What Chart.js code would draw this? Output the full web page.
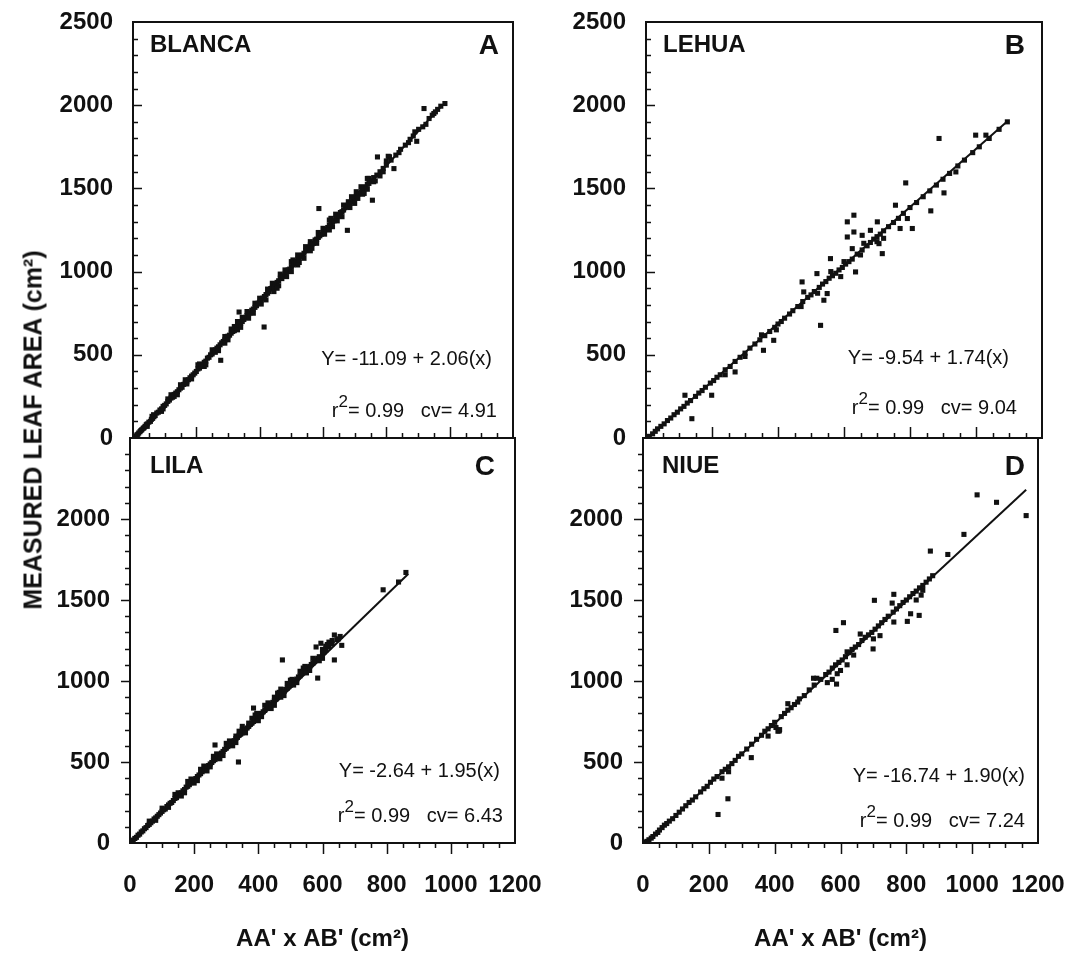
<!DOCTYPE html>
<html>
<head>
<meta charset="utf-8">
<script src="https://cdn.jsdelivr.net/npm/chart.js@4.4.1/dist/chart.umd.min.js"></script>
<style>
html,body{margin:0;padding:0;background:#fff;}
#wrap{position:relative;width:1087px;height:962px;overflow:hidden;font-family:'Liberation Sans',Arial,Helvetica,sans-serif;color:#111;}
canvas{position:absolute;left:0;top:0;}
.t{position:absolute;white-space:nowrap;line-height:1;}
.name{font-weight:bold;font-size:24px;}
.letter{font-weight:bold;font-size:28px;}
.eq{font-size:20px;}
.eq sup{font-size:17px;line-height:0;position:relative;top:-2px;}
#ytitle{position:absolute;left:33px;top:430px;transform:translate(-50%,-50%) rotate(-90deg);font-weight:bold;font-size:25px;white-space:nowrap;line-height:1;}
</style>
</head>
<body>
<div id="wrap">
<canvas id="cA" width="1087" height="962"></canvas>
<canvas id="cB" width="1087" height="962"></canvas>
<canvas id="cC" width="1087" height="962"></canvas>
<canvas id="cD" width="1087" height="962"></canvas>

<div id="ytitle">MEASURED LEAF AREA (cm²)</div>

<div class="t name" style="left:150px;top:32px;">BLANCA</div>
<div class="t letter" style="right:588px;top:31px;">A</div>
<div class="t eq" style="right:595px;top:348px;">Y= -11.09 + 2.06(x)</div>
<div class="t eq" style="right:590px;top:400px;">r<sup>2</sup>= 0.99 &nbsp; cv= 4.91</div>

<div class="t name" style="left:663px;top:32px;">LEHUA</div>
<div class="t letter" style="right:62px;top:31px;">B</div>
<div class="t eq" style="right:78px;top:347px;">Y= -9.54 + 1.74(x)</div>
<div class="t eq" style="right:70px;top:397px;">r<sup>2</sup>= 0.99 &nbsp; cv= 9.04</div>

<div class="t name" style="left:150px;top:453px;">LILA</div>
<div class="t letter" style="right:592px;top:452px;">C</div>
<div class="t eq" style="right:587px;top:760px;">Y= -2.64 + 1.95(x)</div>
<div class="t eq" style="right:584px;top:805px;">r<sup>2</sup>= 0.99 &nbsp; cv= 6.43</div>

<div class="t name" style="left:662px;top:453px;">NIUE</div>
<div class="t letter" style="right:62px;top:452px;">D</div>
<div class="t eq" style="right:62px;top:765px;">Y= -16.74 + 1.90(x)</div>
<div class="t eq" style="right:62px;top:810px;">r<sup>2</sup>= 0.99 &nbsp; cv= 7.24</div>
</div>

<script>
// ---------- tick values ----------
const xTicks = [0, 200, 400, 600, 800, 1000, 1200];
const yTicks = [0, 500, 1000, 1500, 2000, 2500];
const xMinorStep = 50;
const yMinorStep = 100;
const xTitle = "AA' x AB' (cm²)";

// ---------- BLANCA (A) ----------
const blanca = [
[8,10],[12,18],[15,22],[18,30],[22,38],[25,45],[28,50],[32,58],[35,62],[38,70],[42,80],[45,85],[45,70],[50,95],[55,100],[58,112],[60,130],[62,118],[65,140],[66,128],[70,135],[75,150],[80,155],[85,168],[90,160],[90,175],[95,190],[95,175],[100,196],[105,205],[110,220],[110,235],[115,228],[120,240],[120,260],[125,245],[130,262],[130,250],[135,270],[140,278],[140,260],[145,290],[150,300],[150,320],[155,305],[160,322],[165,330],[165,350],[170,338],[170,325],[175,350],[180,362],[185,372],[185,355],[190,380],[195,390],[200,400],[205,415],[205,440],[210,420],[210,445],[215,435],[220,442],[225,455],[225,430],[230,462],[230,440],[235,480],[240,485],[245,500],[250,505],[250,530],[255,520],[260,530],[260,515],[265,540],[270,548],[270,525],[275,560],[277,467],[280,572],[285,580],[290,590],[290,610],[290,570],[295,600],[300,612],[300,590],[305,618],[310,630],[310,655],[315,640],[320,645],[320,670],[325,660],[330,672],[330,650],[335,757],[335,680],[340,690],[340,665],[345,700],[345,725],[350,712],[355,725],[360,735],[360,760],[365,745],[365,720],[370,752],[375,768],[380,775],[380,750],[385,785],[385,810],[390,795],[395,810],[400,815],[400,840],[405,830],[405,805],[410,840],[414,667],[415,850],[420,862],[420,830],[425,870],[425,895],[430,880],[435,898],[440,905],[440,930],[445,910],[445,880],[450,925],[455,935],[460,945],[460,915],[465,960],[465,985],[470,958],[475,975],[480,985],[480,1010],[485,1000],[485,970],[490,1010],[495,1015],[500,1030],[500,1000],[500,1060],[505,1040],[505,1070],[510,1050],[515,1060],[520,1075],[520,1100],[525,1080],[525,1055],[530,1095],[535,1100],[540,1110],[540,1080],[545,1125],[545,1150],[550,1130],[555,1140],[560,1160],[560,1180],[565,1165],[565,1140],[570,1170],[575,1190],[580,1195],[580,1170],[585,1205],[585,1235],[587,1379],[590,1215],[595,1225],[600,1235],[600,1260],[605,1250],[605,1225],[610,1255],[615,1265],[620,1280],[620,1250],[620,1310],[625,1290],[625,1320],[630,1300],[635,1305],[640,1320],[640,1345],[645,1330],[645,1305],[650,1335],[655,1355],[660,1360],[660,1330],[665,1370],[665,1400],[670,1385],[675,1390],[677,1248],[680,1400],[680,1420],[685,1410],[685,1385],[690,1420],[695,1435],[700,1440],[700,1410],[705,1452],[705,1480],[710,1465],[710,1440],[715,1470],[720,1480],[720,1510],[725,1495],[725,1465],[730,1505],[730,1470],[735,1510],[740,1525],[740,1495],[745,1530],[745,1560],[750,1545],[756,1429],[760,1565],[760,1540],[765,1545],[770,1580],[772,1689],[780,1600],[780,1575],[790,1620],[790,1600],[800,1640],[800,1665],[806,1693],[810,1690],[815,1670],[824,1619],[830,1700],[840,1715],[845,1735],[860,1760],[870,1775],[875,1795],[885,1815],[890,1840],[896,1783],[902,1855],[915,1870],[919,1980],[925,1885],[935,1920],[945,1940],[950,1950],[955,1960],[962,1975],[972,1994],[985,2010],
[330,700],[455,900],[520,1040],[560,1125],[630,1270],[690,1450],[740,1560]
];
const blancaFit = [[5,0],[975,1997]];

// ---------- LEHUA (B) ----------
const lehua = [
[10,10],[20,25],[28,40],[35,55],[45,70],[55,85],[65,105],[75,120],[85,140],[95,155],[105,175],[115,190],[118,257],[125,210],[135,225],[139,116],[150,250],[160,270],[170,285],[180,305],[195,330],[199,257],[205,345],[215,365],[225,380],[240,410],[240,380],[255,430],[270,460],[270,397],[285,485],[300,510],[300,490],[315,540],[330,565],[345,590],[350,620],[356,527],[360,615],[375,640],[387,587],[390,665],[395,650],[400,685],[410,700],[420,720],[435,745],[445,765],[460,790],[470,790],[473,938],[475,820],[478,878],[490,845],[500,860],[510,880],[518,988],[520,870],[525,905],[529,677],[535,925],[539,828],[545,940],[549,868],[555,960],[559,1078],[560,1000],[565,975],[575,990],[585,1010],[590,970],[595,1025],[600,1060],[605,1045],[610,1299],[610,1208],[615,1060],[625,1075],[625,1138],[630,1339],[630,1238],[635,998],[640,1105],[650,1100],[655,1130],[655,1218],[660,1170],[670,1155],[680,1175],[680,1248],[690,1195],[700,1210],[700,1180],[701,1299],[706,1168],[710,1225],[716,1108],[720,1245],[720,1200],[735,1270],[750,1295],[756,1399],[765,1320],[770,1259],[780,1350],[787,1533],[792,1319],[800,1385],[807,1259],[820,1415],[840,1450],[860,1485],[863,1365],[880,1520],[888,1800],[900,1555],[903,1473],[920,1590],[939,1599],[945,1635],[965,1670],[990,1715],[999,1820],[1010,1750],[1030,1820],[1040,1800],[1070,1855],[1095,1900]
];
const lehuaFit = [[6,0],[1096,1905]];

// ---------- LILA (C) ----------
const lila = [
[5,8],[10,18],[15,28],[20,35],[25,48],[30,55],[35,68],[40,75],[45,88],[50,95],[55,108],[60,115],[60,135],[65,125],[70,135],[75,148],[80,155],[80,140],[85,165],[90,175],[95,185],[100,195],[100,215],[105,205],[110,210],[115,225],[120,235],[120,220],[125,245],[130,250],[135,262],[140,275],[140,300],[145,280],[150,295],[150,310],[155,300],[160,310],[160,290],[165,322],[170,330],[170,310],[175,345],[180,350],[180,380],[185,360],[190,372],[190,395],[195,380],[200,390],[200,370],[205,398],[210,410],[210,385],[215,420],[220,428],[220,455],[225,440],[230,450],[230,475],[235,458],[240,470],[240,445],[245,478],[250,488],[250,470],[255,497],[260,508],[260,535],[265,605],[265,515],[270,525],[270,550],[275,538],[280,545],[280,520],[285,555],[290,565],[290,540],[295,578],[300,585],[300,615],[305,595],[310,605],[310,630],[315,612],[320,625],[320,600],[325,632],[330,645],[330,620],[330,660],[335,652],[338,500],[340,665],[340,690],[345,672],[350,680],[350,720],[350,700],[355,692],[360,702],[360,680],[365,710],[370,720],[370,740],[375,732],[380,740],[380,770],[385,833],[385,750],[390,760],[390,790],[395,770],[400,780],[400,755],[405,790],[410,800],[410,780],[415,810],[420,818],[420,850],[425,830],[430,838],[430,865],[435,850],[440,858],[440,830],[445,868],[450,878],[450,850],[450,900],[455,888],[460,897],[460,925],[465,905],[470,918],[470,950],[470,900],[475,1130],[475,925],[480,935],[480,910],[485,948],[490,955],[490,985],[495,965],[500,975],[500,1005],[505,985],[510,995],[510,975],[515,1005],[520,1012],[520,990],[525,1025],[530,1032],[530,1060],[535,1045],[540,1052],[540,1080],[545,1062],[550,1072],[550,1050],[555,1082],[560,1090],[560,1065],[565,1102],[570,1110],[570,1140],[575,1120],[580,1210],[580,1130],[585,1018],[585,1140],[590,1150],[590,1125],[595,1233],[600,1170],[600,1140],[600,1195],[605,1180],[610,1190],[610,1215],[620,1210],[620,1240],[630,1230],[630,1250],[637,1130],[637,1284],[645,1255],[650,1260],[655,1275],[660,1220],[789,1563],[837,1611],[860,1670],
[395,800],[465,930],[505,1010],[545,1090],[615,1225]
];
const lilaFit = [[2,0],[867,1660]];

// ---------- NIUE (D) ----------
const niue = [
[5,5],[12,10],[18,20],[25,30],[30,40],[38,55],[45,65],[50,80],[58,95],[65,110],[72,120],[80,135],[90,150],[100,170],[110,190],[120,210],[130,230],[140,250],[150,265],[160,285],[175,315],[185,335],[195,350],[205,375],[215,395],[225,410],[228,176],[240,440],[240,400],[250,455],[258,273],[260,470],[260,440],[270,490],[280,510],[290,535],[300,550],[315,580],[329,527],[330,610],[345,640],[360,665],[370,690],[380,705],[380,660],[390,725],[400,745],[404,713],[410,690],[414,692],[415,700],[420,780],[430,800],[440,820],[440,860],[450,835],[460,855],[470,870],[475,890],[490,910],[505,945],[518,1017],[520,975],[528,1017],[540,1010],[555,1040],[560,990],[565,1055],[575,1080],[575,1010],[585,1100],[586,1312],[588,981],[590,1045],[595,1115],[600,1065],[605,1130],[609,1360],[615,1150],[620,1180],[620,1100],[625,1175],[635,1195],[640,1160],[645,1210],[655,1225],[660,1290],[665,1250],[675,1270],[685,1285],[695,1300],[699,1198],[700,1260],[703,1498],[705,1320],[715,1340],[720,1280],[725,1360],[735,1380],[745,1400],[757,1481],[760,1425],[762,1535],[762,1364],[770,1445],[780,1465],[790,1485],[800,1500],[803,1368],[810,1520],[813,1415],[820,1540],[830,1555],[830,1500],[839,1405],[840,1575],[845,1530],[850,1590],[850,1560],[860,1610],[870,1630],[873,1802],[880,1650],[926,1781],[975,1905],[1015,2149],[1074,2103],[1164,2021]
];
const niueFit = [[9,0],[1164,2180]];

// ---------- drawing ----------
const W = 1087, H = 962;
const INK = '#111';
Chart.defaults.font.family = "'Liberation Sans', Arial, Helvetica, sans-serif";
Chart.defaults.color = INK;

const frame = {
  id: 'frame',
  afterDatasetsDraw(chart, args, o) {
    const {ctx, chartArea: a, scales: {x, y}} = chart;
    const d = o.inward ? 1 : -1;
    ctx.save();
    ctx.strokeStyle = INK;
    ctx.lineWidth = 2;
    ctx.strokeRect(a.left, a.top, a.right - a.left, a.bottom - a.top);
    ctx.lineWidth = 1.5;
    ctx.beginPath();
    const yMax = yTicks[yTicks.length - 1];
    for (let v = yMinorStep; v < yMax; v += yMinorStep) {
      const py = Math.round(y.getPixelForValue(v)) + 0.5;
      const L = yTicks.includes(v) ? 9 : 5;
      ctx.moveTo(a.left, py); ctx.lineTo(a.left + d * L, py);
    }
    const xMax = xTicks[xTicks.length - 1];
    for (let v = xMinorStep; v < xMax; v += xMinorStep) {
      const px = Math.round(x.getPixelForValue(v)) + 0.5;
      const L = xTicks.includes(v) ? 11 : 5;
      ctx.moveTo(px, a.bottom); ctx.lineTo(px, a.bottom - d * L);
    }
    ctx.stroke();
    ctx.restore();
  }
};

function zeroPad(s) { s.paddingLeft = 0; s.paddingRight = 0; s.paddingTop = 0; s.paddingBottom = 0; }

function panel(id, pts, fit, box, bottom) {
  const YW = 110;
  const XH = bottom ? 111 : 0;
  new Chart(document.getElementById(id), {
    type: 'scatter',
    data: {
      datasets: [
        {
          data: pts.map(p => ({x: p[0], y: p[1]})),
          pointStyle: 'rect', pointRadius: 3.6, pointHoverRadius: 3.6,
          backgroundColor: INK, borderColor: INK, borderWidth: 0
        },
        {
          data: fit.map(p => ({x: p[0], y: p[1]})),
          showLine: true, borderColor: INK, borderWidth: 2,
          pointRadius: 0, pointHoverRadius: 0, fill: false
        }
      ]
    },
    options: {
      responsive: false, animation: false, devicePixelRatio: 1, events: [],
      layout: {padding: {left: box.l - YW, top: box.t, right: W - box.r, bottom: H - box.b - XH}},
      plugins: {legend: {display: false}, tooltip: {enabled: false}, frame: {inward: !bottom}},
      scales: {
        x: {
          type: 'linear', min: xTicks[0], max: xTicks[xTicks.length - 1],
          afterBuildTicks: s => { s.ticks = xTicks.map(v => ({value: v})); },
          grid: {display: false, drawTicks: false},
          border: {display: false},
          ticks: {display: bottom, padding: 28, font: {size: 24, weight: 'bold'}, color: INK, maxRotation: 0, autoSkip: false,
                  callback: v => String(v)},
          title: {display: bottom, text: xTitle, font: {size: 24, weight: 'bold'}, color: INK, padding: 0},
          afterFit: s => { s.height = XH; zeroPad(s); }
        },
        y: {
          type: 'linear', min: yTicks[0], max: yTicks[yTicks.length - 1],
          afterBuildTicks: s => { s.ticks = yTicks.map(v => ({value: v})); },
          grid: {display: false, drawTicks: false},
          border: {display: false},
          ticks: {
            padding: 20, font: {size: 24, weight: 'bold'}, color: INK, autoSkip: false,
            callback: v => (bottom && v === yTicks[yTicks.length - 1]) ? '' : String(v)
          },
          afterFit: s => { s.width = YW; zeroPad(s); }
        }
      }
    },
    plugins: [frame]
  });
}

panel('cA', blanca, blancaFit, {l: 133, r: 513, t: 22, b: 438}, false);
panel('cB', lehua, lehuaFit, {l: 646, r: 1042, t: 22, b: 438}, false);
panel('cC', lila, lilaFit, {l: 130, r: 515, t: 438, b: 843}, true);
panel('cD', niue, niueFit, {l: 643, r: 1038, t: 438, b: 843}, true);
</script>
</body>
</html>
